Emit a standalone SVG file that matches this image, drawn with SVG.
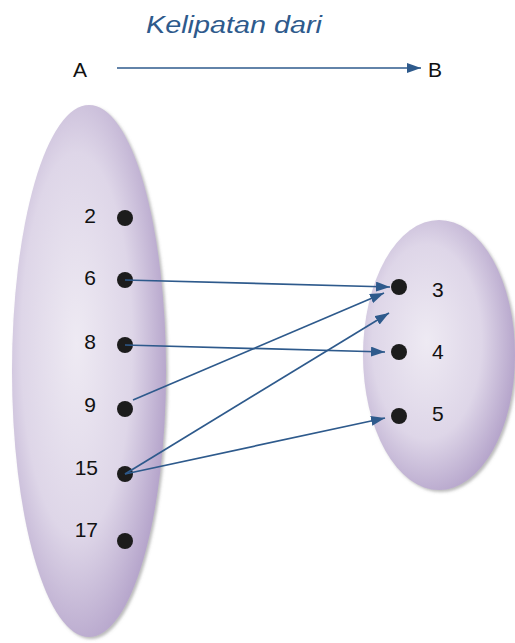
<svg xmlns="http://www.w3.org/2000/svg" width="515" height="643" viewBox="0 0 515 643">
<defs>
<radialGradient id="setFill" cx="0.42" cy="0.45" r="0.6">
<stop offset="0" stop-color="#EEEAF3"/>
<stop offset="0.6" stop-color="#DED6E8"/>
<stop offset="1" stop-color="#B4A3CA"/>
</radialGradient>
<filter id="shadow" x="-10%" y="-10%" width="125%" height="125%">
<feDropShadow dx="2" dy="2" stdDeviation="1.5" flood-color="#777777" flood-opacity="0.5"/>
</filter>
<marker id="arrow" viewBox="0 0 14 10" refX="14" refY="5" markerWidth="14" markerHeight="10" markerUnits="userSpaceOnUse" orient="auto">
<path d="M0,0 L14,5 L0,10 Z" fill="#2E5A8C"/>
</marker>
</defs>
<style>
.set{fill:url(#setFill);filter:url(#shadow);}
.dot{fill:#1C1C1C;}
.lbl{font-family:"Liberation Sans",Arial,sans-serif;font-size:21px;fill:#111111;}
.num{text-anchor:end;}
.title{font-family:"Liberation Sans",Arial,sans-serif;font-style:italic;font-size:23px;fill:#2E5A8C;}
.conn{stroke:#2E5A8C;stroke-width:1.7;fill:none;marker-end:url(#arrow);}
</style>
<text class="title" x="146" y="33" textLength="176" lengthAdjust="spacingAndGlyphs">Kelipatan dari</text>
<g id="labelA"><text class="lbl" x="73" y="77">A</text></g>
<g id="labelB"><text class="lbl" x="428" y="77">B</text></g>
<g id="setA">
<ellipse class="set" cx="89" cy="371" rx="77" ry="266"/>
</g>
<g id="setB">
<ellipse class="set" cx="439" cy="355" rx="76" ry="135"/>
</g>
<g id="a2"><circle class="dot" cx="125" cy="218" r="8"/><text class="lbl num" x="96" y="223">2</text></g>
<g id="a6"><circle class="dot" cx="125" cy="280" r="8"/><text class="lbl num" x="96" y="285">6</text></g>
<g id="a8"><circle class="dot" cx="125" cy="345" r="8"/><text class="lbl num" x="96" y="349">8</text></g>
<g id="a9"><circle class="dot" cx="125" cy="409" r="8"/><text class="lbl num" x="96" y="412">9</text></g>
<g id="a15"><circle class="dot" cx="125" cy="474" r="8"/><text class="lbl num" x="98" y="475">15</text></g>
<g id="a17"><circle class="dot" cx="125" cy="541" r="8"/><text class="lbl num" x="98" y="537">17</text></g>
<g id="b3"><circle class="dot" cx="399" cy="287" r="8"/><text class="lbl" x="432" y="297">3</text></g>
<g id="b4"><circle class="dot" cx="399" cy="352" r="8"/><text class="lbl" x="432" y="359">4</text></g>
<g id="b5"><circle class="dot" cx="399" cy="416" r="8"/><text class="lbl" x="432" y="421">5</text></g>
<g id="connectors">
<line class="conn" x1="117" y1="68" x2="421" y2="68"/>
<line class="conn" x1="125" y1="280" x2="390" y2="287"/>
<line class="conn" x1="125" y1="345" x2="385" y2="352"/>
<line class="conn" x1="133" y1="400" x2="384" y2="293"/>
<line class="conn" x1="125" y1="474" x2="389" y2="313"/>
<line class="conn" x1="125" y1="474" x2="385" y2="418"/>
</g>
</svg>
